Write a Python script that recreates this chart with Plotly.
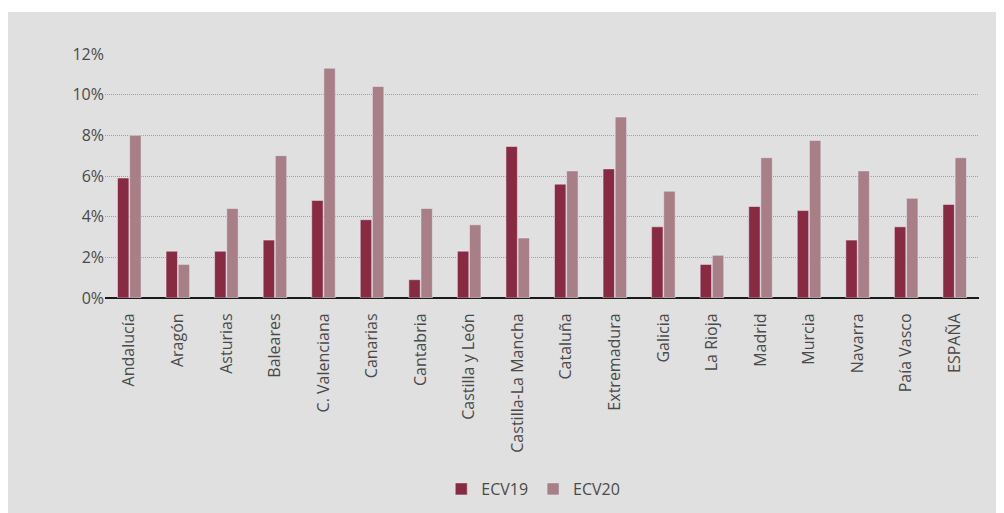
import plotly.graph_objects as go

regions = ["Andalucía", "Aragón", "Asturias", "Baleares", "C. Valenciana", "Canarias",
           "Cantabria", "Castilla y León", "Castilla-La Mancha", "Cataluña", "Extremadura",
           "Galicia", "La Rioja", "Madrid", "Murcia", "Navarra", "Paía Vasco", "ESPAÑA"]
ecv19 = [5.9, 2.3, 2.3, 2.85, 4.8, 3.85, 0.9, 2.3, 7.45, 5.6, 6.35, 3.5, 1.65, 4.5, 4.3, 2.85, 3.5, 4.6]
ecv20 = [8.0, 1.65, 4.4, 7.0, 11.3, 10.4, 4.4, 3.6, 2.95, 6.25, 8.9, 5.25, 2.1, 6.9, 7.75, 6.25, 4.9, 6.9]
yticks = [0, 2, 4, 6, 8, 10, 12]
ytick_text = [f"{v}%" for v in yticks]

W, H = 1004, 513
L, R, T, B = 97, 33, 46, 223
pw, ph = W - L - R, H - T - B

fig = go.Figure()
fig.add_bar(x=regions, y=ecv19, name="ECV19", marker_color="#882B42")
fig.add_bar(x=regions, y=ecv20, name="ECV20", marker_color="#A87F86")

fam = "Open Sans, Lato, sans-serif"
col = "#4a4a4a"

fig.update_layout(
    width=W, height=H,
    margin=dict(l=L, r=R, t=T, b=B, pad=0),
    paper_bgcolor="white",
    plot_bgcolor="rgba(0,0,0,0)",
    barmode="group",
    bargap=0.5,
    bargroupgap=0.06,
    font=dict(family=fam, color=col),
    showlegend=True,
    legend=dict(orientation="h", x=0.49, xanchor="center", y=(T + ph - 481) / ph, yanchor="middle",
                font=dict(size=16, color=col, family=fam), bgcolor="rgba(0,0,0,0)",
                itemwidth=30, tracegroupgap=0),
    xaxis=dict(tickangle=-90, tickfont=dict(size=16, color=col, family=fam), showgrid=False,
               ticks="outside", ticklen=8, tickcolor="rgba(0,0,0,0)", showline=False),
    yaxis=dict(range=[0, 12], tickvals=yticks, ticktext=ytick_text,
               tickfont=dict(size=16, color=col, family=fam),
               showgrid=True, gridcolor="#a0a0a0", griddash="1px,1px", gridwidth=1,
               zeroline=True, zerolinecolor="#1a1a1a", zerolinewidth=2, showline=False,
               ticks="", fixedrange=True),
    shapes=[dict(type="rect", xref="paper", yref="paper", layer="below", line=dict(width=0),
                 fillcolor="#e0e0e0",
                 x0=-L / pw, x1=(W - L) / pw + 0.01,
                 y0=-(B + 5) / ph, y1=(T + ph - 4) / ph)],
)

fig.write_html("out.html")
